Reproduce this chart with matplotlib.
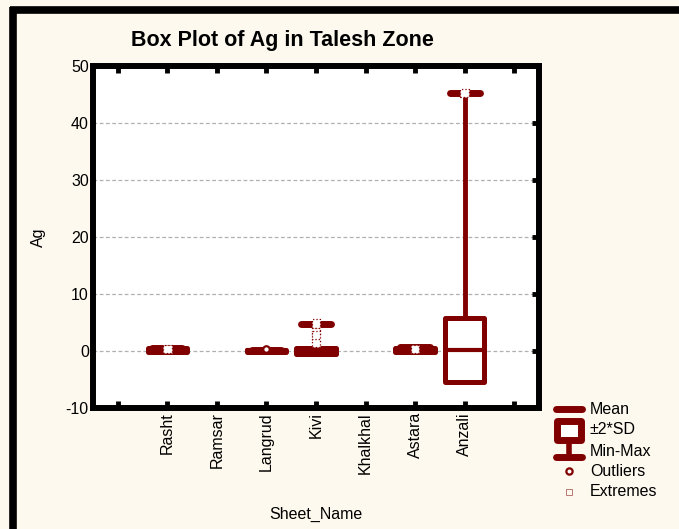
import numpy as np
import matplotlib
matplotlib.use("Agg")
import matplotlib.pyplot as plt
from matplotlib.patches import Rectangle
from matplotlib.lines import Line2D

plt.rcParams['font.family'] = ['Liberation Sans', 'DejaVu Sans']

# ---- data ----
categories = ['Rasht', 'Ramsar', 'Langrud', 'Kivi', 'Khalkhal', 'Astara', 'Anzali']
means   = [0.15, np.nan, 0.1, 0.0, np.nan, 0.2, 0.2]
sd_low  = [-0.2, np.nan, -0.1, -0.5, np.nan, -0.15, -5.4]
sd_high = [0.5, np.nan, 0.25, 0.55, np.nan, 0.55, 5.8]
mins    = [0.0, np.nan, 0.0, 0.0, np.nan, 0.0, 0.0]
maxs    = [0.45, np.nan, 0.25, 4.8, np.nan, 0.75, 45.3]
outliers = {'Langrud': [0.35]}
extremes = {'Rasht': [0.35], 'Kivi': [4.8, 3.3, 2.7, 1.4], 'Astara': [0.4], 'Anzali': [45.3]}
yticks = [-10, 0, 10, 20, 30, 40, 50]

RED = '#800000'
BG = '#fdf9ee'
FS = 11.5

fig = plt.figure(figsize=(6.79, 5.29), dpi=100, facecolor=BG)
ax = fig.add_axes([93/679, 1-408/529, (539-93)/679, (408-66)/529])
ax.set_facecolor('white')

positions = np.arange(1, len(categories) + 1)
box_w = 0.8
cap_w = 0.6
for x, m, lo, hi, mn, mx, name in zip(positions, means, sd_low, sd_high, mins, maxs, categories):
    if np.isnan(m):
        continue
    # whiskers (min-max)
    ax.plot([x, x], [hi, mx], color=RED, lw=3.5, solid_capstyle='butt', zorder=3)
    ax.plot([x, x], [mn, lo], color=RED, lw=3.5, solid_capstyle='butt', zorder=3)
    ax.plot([x - cap_w/2, x + cap_w/2], [mx, mx], color=RED, lw=5, solid_capstyle='round', zorder=3)
    ax.plot([x - cap_w/2, x + cap_w/2], [mn, mn], color=RED, lw=5, solid_capstyle='round', zorder=3)
    # box (mean +- 2SD)
    ax.add_patch(Rectangle((x - box_w/2, lo), box_w, hi - lo, facecolor='white',
                           edgecolor=RED, lw=3.6, joinstyle='round', zorder=4))
    # mean line
    ax.plot([x - box_w/2, x + box_w/2], [m, m], color=RED, lw=3, solid_capstyle='round', zorder=5)

for name, vals in outliers.items():
    x = categories.index(name) + 1
    ax.scatter([x]*len(vals), vals, s=22, marker='o', facecolor='white', edgecolor=RED,
               linewidths=1.6, zorder=6)
for name, vals in extremes.items():
    x = categories.index(name) + 1
    ax.scatter([x]*len(vals), vals, s=36, marker='s', facecolor='white', edgecolor=RED,
               linewidths=0.9, linestyles=':', zorder=6)

ax.set_xlim(-0.5, 8.5)
ax.set_ylim(-10, 50)
ax.set_xticks(np.arange(0, 9))
ax.set_xticklabels([''] + categories + [''], rotation=90, fontsize=FS)
ax.set_yticks(yticks)
ax.set_yticklabels([str(v) for v in yticks], fontsize=FS)
for v in yticks[1:-1]:
    ax.axhline(v, color='#b0b0b0', lw=0.9, ls=(0, (3, 2)), zorder=1)

for s in ax.spines.values():
    s.set_linewidth(4.3)
    s.set_color('black')
ax.tick_params(axis='x', which='both', direction='in', length=5, width=3.5,
               top=True, bottom=True, pad=3)
ax.tick_params(axis='y', which='both', direction='in', length=5, width=3.5,
               left=False, right=True, pad=3)

ax.set_xlabel('Sheet_Name', fontsize=FS, labelpad=24)
ax.set_ylabel('Ag', fontsize=FS, labelpad=14)
fig.text(282/679, 1-40/529, 'Box Plot of Ag in Talesh Zone', ha='center', va='center',
         fontsize=15.5, fontweight='bold')

# outer frame
fig.add_artist(Line2D([13/679, 13/679], [0, 1-7/529], transform=fig.transFigure,
                      color='black', lw=5.5, solid_capstyle='butt'))
fig.add_artist(Line2D([10/679, 1], [1-10/529, 1-10/529], transform=fig.transFigure,
                      color='black', lw=5.5, solid_capstyle='butt'))

# legend (drawn manually)
def fx(px):
    return px / 679
def fy(py):
    return 1 - py / 529
lx0, lx1, lxc = 556, 582, 569
fig.add_artist(Line2D([fx(lx0), fx(lx1)], [fy(409), fy(409)], transform=fig.transFigure,
                      color=RED, lw=5, solid_capstyle='round'))
fig.add_artist(Line2D([fx(lxc), fx(lxc)], [fy(440), fy(456)], transform=fig.transFigure,
                      color=RED, lw=4))
fig.add_artist(Rectangle((fx(557), fy(440)), fx(24), 19/529, transform=fig.transFigure,
                         facecolor='white', edgecolor=RED, lw=5, joinstyle='round'))
fig.add_artist(Line2D([fx(lx0), fx(lx1)], [fy(457), fy(457)], transform=fig.transFigure,
                      color=RED, lw=5, solid_capstyle='round'))
fig.add_artist(Line2D([fx(lxc)], [fy(471)], transform=fig.transFigure, marker='o',
                      markersize=4.5, markerfacecolor='white', markeredgecolor=RED,
                      markeredgewidth=1.6, ls='none'))
fig.add_artist(Line2D([fx(lxc)], [fy(492)], transform=fig.transFigure, marker='s',
                      markersize=5, markerfacecolor='none', markeredgecolor=RED,
                      markeredgewidth=0.6, ls='none', alpha=0.6))
for txt, py in [('Mean', 410), ('±2*SD', 430), ('Min-Max', 451), ('Outliers', 471), ('Extremes', 492)]:
    fig.text(fx(590), fy(py), txt, ha='left', va='center', fontsize=FS)

fig.savefig('out.png', dpi=100, facecolor=BG)
